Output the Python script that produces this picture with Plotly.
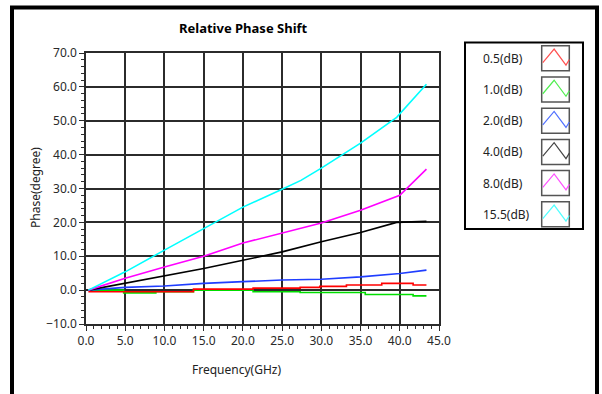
import plotly.graph_objects as go

# ---------------- data ----------------
series_names = ["0.5(dB)", "1.0(dB)", "2.0(dB)", "4.0(dB)", "8.0(dB)", "15.5(dB)"]
series_colors = ["#ff0000", "#00dd00", "#1f3dff", "#000000", "#ff00ff", "#00ffff"]
icon_colors = ["#ff5050", "#50ee50", "#5070ff", "#444444", "#ff50ff", "#50ffff"]

freq_05 = [0.3, 13.7, 21.3, 27.3, 29.8, 33.2, 37.7, 41.7, 43.4]
phase_05 = [-0.5, 0.3, 0.6, 0.8, 1.1, 1.5, 2.0, 1.5, 1.5]

freq_10 = [0.3, 4.8, 8.9, 13.7, 21.3, 27.3, 35.6, 41.7, 43.4]
phase_10 = [0.0, -0.8, -0.5, 0.0, -0.5, -0.7, -1.3, -1.7, -1.7]

freq_20 = [0.3, 5.0, 10.0, 15.0, 20.0, 25.0, 30.0, 35.0, 40.0, 43.4]
phase_20 = [0.0, 0.8, 1.2, 2.0, 2.5, 3.0, 3.2, 3.9, 4.9, 5.9]

freq_40 = [0.3, 5.0, 10.0, 15.0, 20.0, 25.0, 30.0, 35.0, 39.6, 41.5, 43.4]
phase_40 = [0.0, 2.0, 4.1, 6.4, 8.8, 11.3, 14.3, 17.0, 20.0, 20.2, 20.3]

freq_80 = [0.3, 5.0, 10.0, 15.0, 20.0, 25.0, 30.0, 35.0, 38.5, 40.0, 43.4]
phase_80 = [0.0, 3.5, 6.8, 10.0, 13.9, 16.8, 19.8, 23.6, 26.8, 28.0, 35.7]

freq_155 = [0.3, 5.0, 10.0, 15.0, 20.0, 25.0, 27.4, 30.0, 35.0, 39.6, 43.4]
phase_155 = [0.0, 5.4, 11.8, 18.2, 24.5, 29.8, 32.4, 36.0, 43.4, 51.0, 60.8]

x_ticks = [0, 5, 10, 15, 20, 25, 30, 35, 40, 45]
y_ticks = [-10, 0, 10, 20, 30, 40, 50, 60, 70]

title_text = "Relative Phase Shift"
x_title = "Frequency(GHz)"
y_title = "Phase(degree)"

# ---------------- figure ----------------
W, H = 602, 394
ML, MR, MT, MB = 86, 163, 53, 70
PW = W - ML - MR
PH = H - MT - MB


def px(xp):
    return (xp - ML) / PW


def py(yp):
    return (H - MB - yp) / PH


fig = go.Figure()
all_x = [freq_05, freq_10, freq_20, freq_40, freq_80, freq_155]
all_y = [phase_05, phase_10, phase_20, phase_40, phase_80, phase_155]
shapes_line = ["hv", "hv", "linear", "linear", "linear", "linear"]
draw_order = [1, 2, 0, 3, 4, 5]
for i in draw_order:
    fig.add_trace(go.Scatter(x=all_x[i], y=all_y[i], mode="lines", name=series_names[i],
                             line=dict(color=series_colors[i], width=1.6, shape=shapes_line[i]),
                             showlegend=False))

tick_font = dict(family="Noto Sans", size=12, color="#2a2a2a")
grid_c = "#2b2b2b"

fig.update_layout(
    width=W, height=H,
    margin=dict(l=ML, r=MR, t=MT, b=MB),
    paper_bgcolor="white", plot_bgcolor="white",
    xaxis=dict(range=[0, 45], tickvals=x_ticks, tickformat=".1f",
               showgrid=True, gridcolor=grid_c, gridwidth=1.5,
               showline=True, linecolor=grid_c, linewidth=1.5, mirror=True,
               ticks="outside", ticklen=5, tickcolor=grid_c, tickwidth=1,
               minor=dict(dtick=1, ticks="outside", ticklen=3, tickcolor=grid_c, showgrid=False),
               zeroline=False, tickfont=tick_font),
    yaxis=dict(range=[-10, 70], tickvals=y_ticks, tickformat=".1f",
               showgrid=True, gridcolor=grid_c, gridwidth=1.5,
               showline=True, linecolor=grid_c, linewidth=1.5, mirror=True,
               ticks="outside", ticklen=5, tickcolor=grid_c, tickwidth=1,
               minor=dict(dtick=2, ticks="outside", ticklen=3, tickcolor=grid_c, showgrid=False),
               zeroline=False, tickfont=tick_font),
)

shapes = []
annotations = []

# outer frame
shapes.append(dict(type="rect", xref="paper", yref="paper",
                   x0=px(12), x1=px(597), y0=py(430), y1=py(7.5),
                   line=dict(color="black", width=4), layer="above"))

# title
annotations.append(dict(text="<b>" + title_text + "</b>", xref="paper", yref="paper",
                        x=px(243), y=py(28), xanchor="center", yanchor="middle",
                        showarrow=False, font=dict(family="Noto Sans", size=13, color="black")))
# axis titles
annotations.append(dict(text=x_title, xref="paper", yref="paper",
                        x=px(236), y=py(369), xanchor="center", yanchor="middle",
                        showarrow=False, font=dict(family="Noto Sans", size=12, color="#222")))
annotations.append(dict(text=y_title, xref="paper", yref="paper",
                        x=px(35), y=py(188), xanchor="center", yanchor="middle", textangle=-90,
                        showarrow=False, font=dict(family="Noto Sans", size=12, color="#222")))

# legend box
shapes.append(dict(type="rect", xref="paper", yref="paper",
                   x0=px(465), x1=px(583), y0=py(229), y1=py(42.5),
                   line=dict(color="black", width=2), fillcolor="white", layer="above"))
bx0, bx1 = 541.7, 569.3
for i, (name, ic) in enumerate(zip(series_names, icon_colors)):
    yc = 58.3 + i * 31.2
    by0, by1 = yc - 12.5, yc + 12.5
    annotations.append(dict(text=name, xref="paper", yref="paper",
                            x=px(481), y=py(yc), xanchor="left", yanchor="middle",
                            showarrow=False, font=dict(family="Noto Sans", size=12, color="#222")))
    shapes.append(dict(type="rect", xref="paper", yref="paper",
                       x0=px(bx0), x1=px(bx1), y0=py(by1), y1=py(by0),
                       line=dict(color="#555", width=1.5), layer="above"))
    fx = [0.04, 0.45, 0.88, 1.0]
    fy = [0.67, 0.13, 0.77, 0.55]
    pts = [(px(bx0 + f * (bx1 - bx0)), py(by0 + g * (by1 - by0))) for f, g in zip(fx, fy)]
    path = "M " + " L ".join(f"{a},{b}" for a, b in pts)
    shapes.append(dict(type="path", xref="paper", yref="paper", path=path,
                       line=dict(color=ic, width=1.2), layer="above"))

fig.update_layout(shapes=shapes, annotations=annotations)
fig.write_html("out.html")
